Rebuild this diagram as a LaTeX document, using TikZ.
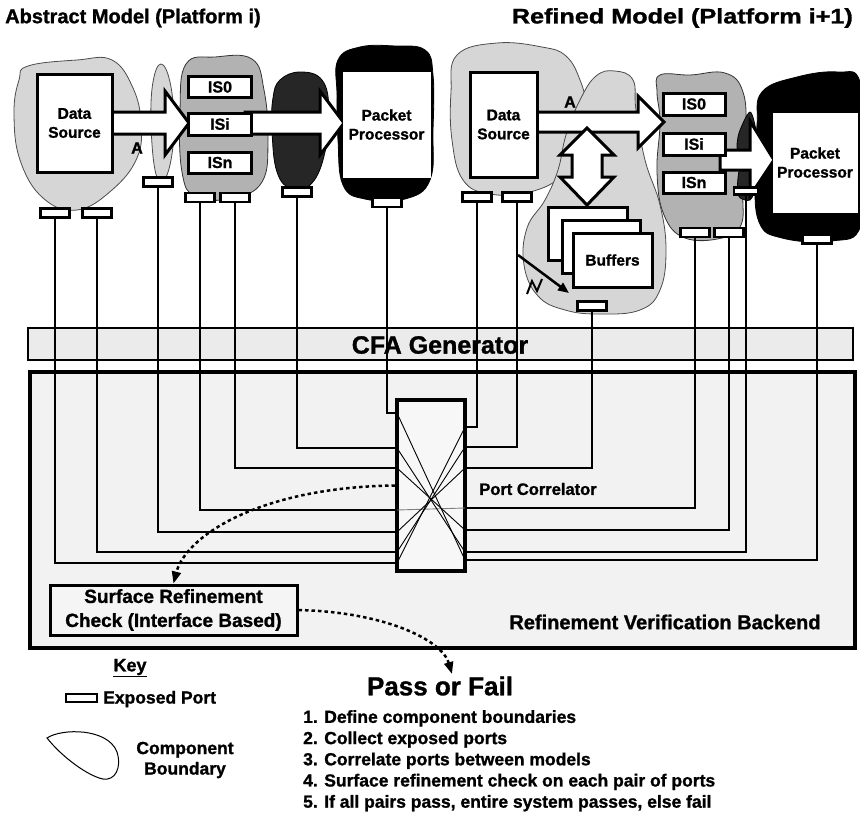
\documentclass[tikz,border=0pt]{standalone}
\usepackage{fontspec}
\setmainfont{Liberation Sans}[BoldFeatures={FakeBold=1.2}]
\usetikzlibrary{arrows.meta}
\begin{document}
\begin{tikzpicture}[x=1pt,y=-1pt,
  lbl/.style={font=\bfseries, inner sep=0pt, align=center},
  wbox/.style={draw, line width=3pt, fill=white, inner sep=0pt, align=center, font=\bfseries\fontsize{15.5}{19}\selectfont},
  isbox/.style={wbox, minimum width=63pt, minimum height=21pt, font=\bfseries\fontsize{16}{18}\selectfont},
  portbox/.style={draw, line width=2.5pt, fill=white, minimum width=29pt, minimum height=9pt, inner sep=0pt},
  wire/.style={line width=2.5pt},
  thinx/.style={line width=0.9pt},
  lightblob/.style={fill=gray!32, draw=black!70, line width=0.8pt},
  midblob/.style={fill=gray!60, draw=black!80, line width=0.8pt},
  darkblob/.style={fill=black!85, draw=black, line width=0.8pt},
  blackblob/.style={fill=black, draw=black, line width=0.8pt},
  fatarrow/.style={draw, line width=3pt, fill=white, line join=miter},
  dotarrow/.style={line width=2.5pt, dash pattern=on 3.5pt off 3pt, -{Triangle[length=12pt,width=9pt]}},
]
\useasboundingbox (0,0) rectangle (860,812);

% titles
\node[lbl, anchor=west, font=\bfseries\fontsize{20}{24}\selectfont] (t1) at (5,18) {Abstract Model (Platform i)};
\node[lbl, anchor=east, font=\bfseries\fontsize{21}{24}\selectfont] (t2) at (853,18) {\scalebox{1.2}[1]{Refined Model (Platform i+1)}};

% backend and CFA
\draw[line width=4.5pt, fill=gray!10] (30,372) rectangle (855,648);
\draw[line width=2.5pt, fill=gray!16] (28,328) rectangle (853,360);
\node[lbl, font=\bfseries\fontsize{25}{28}\selectfont] (cfa) at (440,345) {CFA Generator};

% ---------- abstract model blobs
\draw[lightblob] plot[smooth cycle, tension=0.7] coordinates {(28,66) (77,60) (112,60) (133,88) (141,123) (137,158) (112,190) (77,210) (43,198) (20,160) (14,113) (19,80)};
\draw[lightblob] plot[smooth cycle, tension=0.7] coordinates {(161,64) (170,82) (174,122) (171,160) (163,181) (155,170) (151,122) (153,82)};
\draw[midblob] plot[smooth cycle, tension=0.7] coordinates {(186,64) (215,57) (252,59) (264,90) (268,140) (262,182) (233,198) (196,197) (182,172) (180,110)};
\draw[darkblob] plot[smooth cycle, tension=0.7] coordinates {(280,80) (300,72) (322,80) (329,110) (325,152) (312,183) (292,189) (277,172) (272,130) (273,98)};
\draw[blackblob] plot[smooth cycle, tension=0.7] coordinates {(338,60) (360,47) (395,46) (425,50) (433,75) (433,130) (430,180) (405,199) (365,199) (343,185) (338,140) (337,95)};

% abstract arrows
\draw[fatarrow] (105,112) -- (165,112) -- (165,91) -- (189,123) -- (165,155) -- (165,134) -- (105,134) -- cycle;
\draw[fatarrow] (245,112) -- (320,112) -- (320,91) -- (344,123) -- (320,155) -- (320,134) -- (245,134) -- cycle;
\node[lbl, font=\bfseries\fontsize{16}{18}\selectfont] (la) at (137,148) {A};

% abstract boxes
\node[wbox, minimum width=75pt, minimum height=98pt] (ds1) at (74.5,123) {Data\\Source};
\node[isbox] (is0a) at (220,87) {IS0};
\node[isbox, minimum height=22pt] (isia) at (220,124) {ISi};
\node[isbox] (isna) at (220,162.5) {ISn};
\node[wbox, draw=white, line width=0.5pt, minimum width=87pt, minimum height=105pt] (ppa) at (386.5,124.5) {Packet\\Processor};

% ---------- refined model blobs
\draw[lightblob] plot[smooth cycle, tension=0.7] coordinates {(457,55) (497,43) (542,47) (566,56) (580,80) (585,105) (580,145) (563,175) (530,192) (490,194) (463,180) (452,140) (451,92)};
\draw[midblob] plot[smooth cycle, tension=0.7] coordinates {(660,75) (690,75) (725,73) (743,92) (746,135) (743,190) (741,225) (722,238) (685,238) (664,215) (657,172) (660,123) (657,92)};
\draw[lightblob] plot[smooth cycle, tension=0.7] coordinates {(596,76) (615,71) (633,80) (636,110) (645,160) (660,205) (666,250) (660,290) (640,310) (600,314) (565,310) (538,296) (524,265) (527,228) (545,200) (558,170) (566,135) (580,100)};
\draw[blackblob] plot[smooth cycle, tension=0.7] coordinates {(762,92) (797,77) (838,72) (860,82) (862,150) (861,225) (832,241) (782,238) (759,222) (755,175) (757,125)};
\draw[darkblob] plot[smooth cycle, tension=0.5] coordinates {(750,112) (756,132) (753,151) (738,151) (739,133)};
\draw[darkblob] plot[smooth cycle, tension=0.5] coordinates {(740,168) (753,167) (756,185) (750,200) (738,195)};

% refined arrows
\draw[fatarrow] (530,112) -- (638,112) -- (638,96) -- (664,122) -- (638,148) -- (638,132) -- (530,132) -- cycle;
\draw[fatarrow] (587,128) -- (614,155) -- (602,155) -- (602,177) -- (614,177) -- (587,205) -- (560,177) -- (572,177) -- (572,155) -- (560,155) -- cycle;
\draw[fatarrow] (720,150) -- (750,150) -- (750,121) -- (774,160) -- (750,196) -- (750,170) -- (720,170) -- cycle;
\node[lbl, font=\bfseries\fontsize{16}{18}\selectfont] (lb) at (570,102) {A};

% refined boxes
\node[wbox, minimum width=67pt, minimum height=105pt] (ds2) at (503.5,124.5) {Data\\Source};
\node[isbox, minimum width=62pt, minimum height=22pt] (is0b) at (694,104) {IS0};
\node[isbox, minimum width=62pt, minimum height=22pt] (isib) at (694,144) {ISi};
\node[isbox, minimum width=62pt, minimum height=21pt] (isnb) at (694,182.5) {ISn};
\node[wbox, draw=white, line width=0.5pt, minimum width=84pt, minimum height=99pt] (ppb) at (815,162.5) {Packet\\Processor};
\node[wbox, minimum width=79pt, minimum height=53pt] (buf1) at (587.5,233.5) {};
\node[wbox, minimum width=78pt, minimum height=53pt] (buf2) at (601,246.5) {};
\node[wbox, minimum width=79pt, minimum height=54pt] (buf3) at (612.5,260) {Buffers};

% lightning arrow
\coordinate (z1) at (518,255);
\coordinate (z2) at (569,293);
\draw[line width=2.5pt, -{Triangle[length=11pt,width=9pt]}] (z1) -- (z2);
\draw[line width=2pt] (527,294) -- (532,281) -- (537,291) -- (542,279);

% ---------- ports
\node[portbox] (pa1) at (55,213) {};
\node[portbox] (pa2) at (97,213) {};
\node[portbox] (pa3) at (158,182) {};
\node[portbox] (pa4) at (200,197.5) {};
\node[portbox] (pa5) at (235,197.5) {};
\node[portbox] (pa6) at (297,192) {};
\node[portbox] (pa7) at (387,202.5) {};
\node[portbox] (pb1) at (477,197) {};
\node[portbox] (pb2) at (517,197) {};
\node[portbox] (pb3) at (592,306) {};
\node[portbox] (pb4) at (695,232.5) {};
\node[portbox] (pb5) at (729,232.5) {};
\node[portbox, minimum width=24pt, minimum height=7pt] (pb6) at (746,191) {};
\node[portbox] (pb7) at (817,239) {};

% ---------- correlator entry points
\coordinate (l1) at (397,563);
\coordinate (l2) at (397,552);
\coordinate (l3) at (397,532);
\coordinate (l4) at (397,510);
\coordinate (l5) at (397,468);
\coordinate (l6) at (397,448);
\coordinate (l7) at (397,413);
\coordinate (r1) at (465,427);
\coordinate (r2) at (465,447);
\coordinate (r3) at (465,468);
\coordinate (r4) at (465,508);
\coordinate (r5) at (465,530);
\coordinate (r6) at (465,552);
\coordinate (r7) at (465,560);

% wires
\draw[wire] (pa1.south) |- (l1);
\draw[wire] (pa2.south) |- (l2);
\draw[wire] (pa3.south) |- (l3);
\draw[wire] (pa4.south) |- (l4);
\draw[wire] (pa5.south) |- (l5);
\draw[wire] (pa6.south) |- (l6);
\draw[wire] (pa7.south) |- (l7);
\draw[wire] (pb1.south) |- (r1);
\draw[wire] (pb2.south) |- (r2);
\draw[wire] (pb3.south) |- (r3);
\draw[wire] (pb4.south) |- (r4);
\draw[wire] (pb5.south) |- (r5);
\draw[wire] (pb6.south) |- (r6);
\draw[wire] (pb7.south) |- (r7);

% port correlator
\node[draw, line width=4pt, fill=gray!6, minimum width=68pt, minimum height=171pt, inner sep=0pt] (pc) at (431,485.5) {};
\draw[thinx, gray] (l4) -- (r4);
\foreach \i in {1,2,3,5,6,7} { \draw[thinx] (l\i) -- (r\i); }
\node[lbl, font=\bfseries\fontsize{16.5}{18}\selectfont] (pcl) at (538,489) {Port Correlator};

% surface refinement check
\node[draw, line width=3pt, fill=gray!8, minimum width=247pt, minimum height=50pt, lbl, font=\bfseries\fontsize{19}{24}\selectfont] (src) at (173.5,610) {Surface Refinement\\Check (Interface Based)};
\node[lbl, font=\bfseries\fontsize{20}{24}\selectfont] (rvb) at (665,622) {Refinement Verification Backend};

% pass or fail
\node[lbl, font=\bfseries\fontsize{26}{30}\selectfont] (pf) at (440,686) {Pass or Fail};
\coordinate (pft) at (452,674);
\draw[dotarrow] (pc.west) .. controls (262,487) and (186,535) .. (src.north);
\draw[dotarrow] (src.east) .. controls (385,612) and (442,640) .. (pft);

% key
\node[lbl, font=\bfseries\fontsize{18}{20}\selectfont] (key) at (130,668) {\underline{Key}};
\node[portbox, minimum width=31pt, minimum height=8pt] (keyport) at (81.5,698) {};
\node[lbl, anchor=west, font=\bfseries\fontsize{17.5}{20}\selectfont] (kept) at (103,699) {Exposed Port};
\draw[line width=1pt] (47,738) .. controls (62,728) and (108,728) .. (117,752) .. controls (122,768) and (115,781) .. (103,779) .. controls (88,776) and (62,757) .. (47,738) -- cycle;
\node[lbl, font=\bfseries\fontsize{17.5}{20.5}\selectfont] (kcb) at (185,760) {Component\\Boundary};

% steps
\node[anchor=north west, align=left, inner sep=0pt, font=\bfseries\fontsize{17.5}{21.2}\selectfont] (steps) at (303,710) {1. Define component boundaries\\2. Collect exposed ports\\3. Correlate ports between models\\4. Surface refinement check on each pair of ports\\5. If all pairs pass, entire system passes, else fail};
\end{tikzpicture}
\end{document}
